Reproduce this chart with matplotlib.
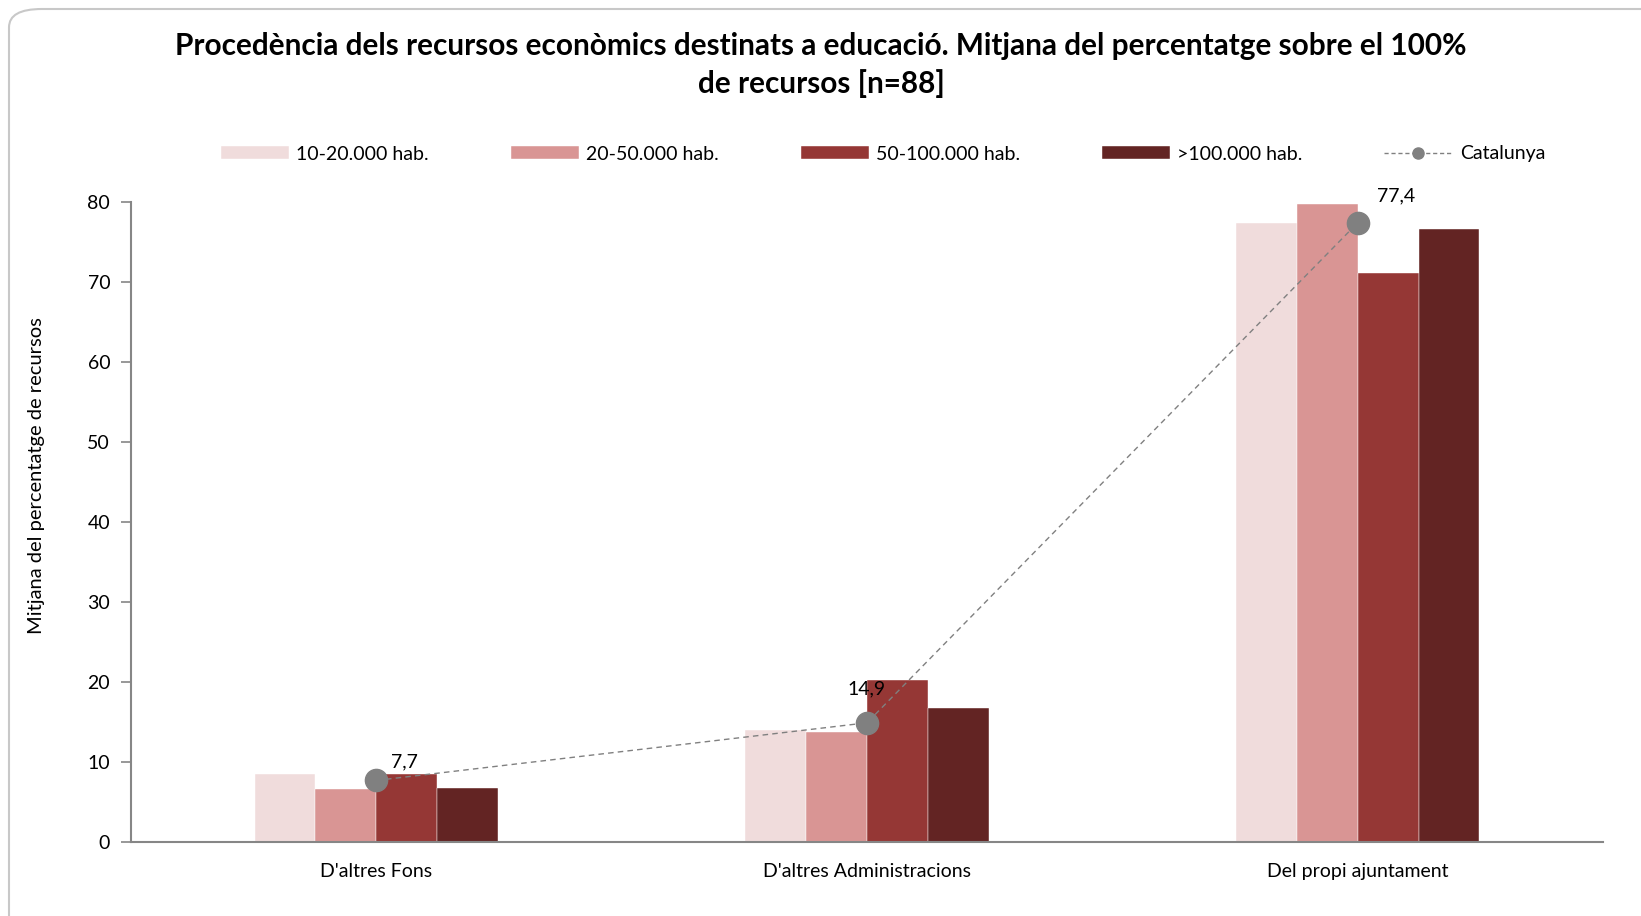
import matplotlib
matplotlib.use("Agg")
import matplotlib.pyplot as plt
from matplotlib.patches import FancyBboxPatch
from matplotlib.lines import Line2D
import numpy as np

plt.rcParams['font.family'] = ['Lato', 'DejaVu Sans']

categories = ["D'altres Fons", "D'altres Administracions", "Del propi ajuntament"]
series_names = ["10-20.000 hab.", "20-50.000 hab.", "50-100.000 hab.", ">100.000 hab."]
v_10_20 = [8.5, 14.0, 77.4]
v_20_50 = [6.6, 13.7, 79.7]
v_50_100 = [8.5, 20.3, 71.1]
v_100 = [6.7, 16.8, 76.6]
catalunya = [7.7, 14.9, 77.4]
catalunya_labels = ["7,7", "14,9", "77,4"]
yticks = [0, 10, 20, 30, 40, 50, 60, 70, 80]

colors = ["#F0DCDC", "#D99594", "#953735", "#632423"]
label_offsets = [(20, 7), (0, 18), (28, 13)]

W, H = 1641, 916
fig = plt.figure(figsize=(W / 100, H / 100), dpi=100)

border = FancyBboxPatch((9 / W, -0.05), 1.05, (1 - 9 / H) + 0.05,
                        boxstyle="round,pad=0,rounding_size=0.02",
                        transform=fig.transFigure, facecolor="white",
                        edgecolor="#C8C8C8", linewidth=1.5, zorder=-10)
fig.patches.append(border)

ax = fig.add_axes([131 / W, 1 - 842 / H, (1603 - 131) / W, (842 - 202) / H])
ax.set_facecolor("none")

x = np.arange(len(categories))
bw = 0.124
all_series = [v_10_20, v_20_50, v_50_100, v_100]
handles = []
for i, (vals, name, col) in enumerate(zip(all_series, series_names, colors)):
    b = ax.bar(x + (i - 1.5) * bw, vals, width=bw, color=col, label=name,
               edgecolor="white", linewidth=0.3, zorder=2)
    handles.append(b)

ln, = ax.plot(x, catalunya, color="#808080", linestyle=(0, (4, 3)), linewidth=1.0,
              marker="o", markersize=16, markerfacecolor="#808080",
              markeredgecolor="#808080", label="Catalunya", zorder=3)
for xi, yi, lab, off in zip(x, catalunya, catalunya_labels, label_offsets):
    ax.annotate(lab, (xi, yi), xytext=off, textcoords="offset points",
                ha="center", va="bottom", fontsize=14, color="#000000", zorder=4)

ax.set_xlim(-0.5, 2.5)
ax.set_ylim(0, 80)
ax.set_yticks(yticks)
ax.set_xticks(x)
ax.set_xticklabels(categories, fontsize=14)
ax.tick_params(axis="x", length=0, pad=15)
ax.tick_params(axis="y", length=7, width=1.2, color="#868686", labelsize=14, pad=8)
for s in ["top", "right"]:
    ax.spines[s].set_visible(False)
for s in ["left", "bottom"]:
    ax.spines[s].set_color("#868686")
    ax.spines[s].set_linewidth(1.5)

fig.text(37 / W, 1 - 476 / H, "Mitjana del percentatge de recursos", rotation=90,
         ha="center", va="center", fontsize=14.5)

fig.text(0.5 * (175 + 1467) / W, 1 - 46 / H,
         "Procedència dels recursos econòmics destinats a educació. Mitjana del percentatge sobre el 100%",
         ha="center", va="center", fontsize=21.4, fontweight="bold")
fig.text(0.5 * (175 + 1467) / W, 1 - 84 / H, "de recursos [n=88]",
         ha="center", va="center", fontsize=21.4, fontweight="bold")

leg_line = Line2D([], [], color="#808080", linestyle=(0, (3, 2)), linewidth=1.0,
                  marker="o", markersize=8, markerfacecolor="#808080",
                  markeredgecolor="#808080")
leg = fig.legend(handles + [leg_line], series_names + ["Catalunya"], ncol=5,
                 loc="center left", bbox_to_anchor=(221 / W, 1 - 154 / H),
                 frameon=False, fontsize=14, handlelength=3.5, handleheight=0.6,
                 handletextpad=0.38, columnspacing=4.2, borderaxespad=0, borderpad=0)

fig.savefig("out.png", dpi=100)
